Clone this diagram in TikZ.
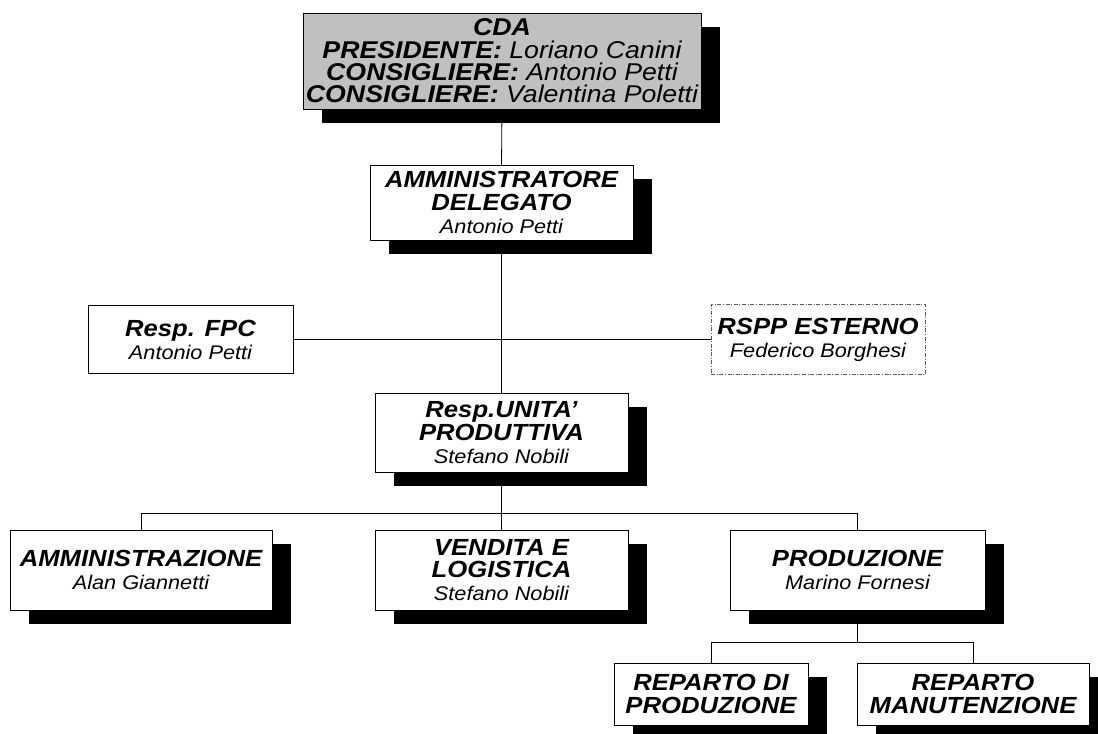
\documentclass[tikz,border=0pt]{standalone}
\usepackage{fontspec}
\setmainfont{Liberation Sans}[FakeStretch=1.1]
\usetikzlibrary{shadows}
\definecolor{cdagray}{RGB}{192,192,192}
\definecolor{dashgray}{RGB}{90,90,90}
\tikzset{
  box/.style={draw=black, line width=0.6pt, fill=white, inner sep=0pt, outer sep=0pt,
    align=center, font=\bfseries\itshape\fontsize{17.5}{17.2}\selectfont},
  shad/.style={drop shadow={shadow xshift=14.25pt, shadow yshift=-10.5pt, opacity=1, fill=black}},
  wire/.style={draw=black, line width=0.6pt},
}
\newcommand\pname[1]{{\mdseries\fontsize{14.8}{17.2}\selectfont #1}}
\newcommand\pcda[1]{{\mdseries #1}}
\begin{document}
\begin{tikzpicture}[x=0.75pt,y=-0.75pt]
\useasboundingbox (0,0) rectangle (1098,733);
\clip (0,0) rectangle (1098,733);

\node[box,shad,fill=cdagray,minimum width=298.5pt,minimum height=72pt,
  font=\bfseries\itshape\fontsize{18.2}{16.8}\selectfont] (cda) at (502,61)
  {CDA\\PRESIDENTE: \pcda{Loriano Canini}\\CONSIGLIERE: \pcda{Antonio Petti}\\CONSIGLIERE: \pcda{Valentina Poletti}};

\node[box,shad,minimum width=197.25pt,minimum height=56.25pt] (ad) at (501.5,202.5)
  {AMMINISTRATORE\\DELEGATO\\\pname{Antonio Petti}};

\node[box,minimum width=153.75pt,minimum height=51pt] (fpc) at (190.5,339.5)
  {Resp. FPC\\\pname{Antonio Petti}};

\node[box,draw=dashgray,dash pattern=on 3pt off 1.2pt on 0.8pt off 1.2pt,minimum width=160.5pt,minimum height=52.5pt] (rspp) at (818,339.5)
  {RSPP ESTERNO\\\pname{Federico Borghesi}};

\node[box,shad,minimum width=189.75pt,minimum height=59.25pt] (unita) at (501.5,432.5)
  {Resp.UNITA'\\PRODUTTIVA\\\pname{Stefano Nobili}};

\node[box,shad,minimum width=196.5pt,minimum height=60pt] (amm) at (141,570)
  {AMMINISTRAZIONE\\\pname{Alan Giannetti}};

\node[box,shad,minimum width=189.75pt,minimum height=60pt] (ven) at (501.5,570)
  {VENDITA E\\LOGISTICA\\\pname{Stefano Nobili}};

\node[box,shad,minimum width=191.25pt,minimum height=60pt] (prod) at (857.5,570)
  {PRODUZIONE\\\pname{Marino Fornesi}};

\node[box,shad,minimum width=145.5pt,minimum height=46.5pt] (rp) at (711,694)
  {REPARTO DI\\PRODUZIONE};

\node[box,shad,minimum width=174pt,minimum height=46.5pt] (rm) at (973,694)
  {REPARTO\\MANUTENZIONE};

\coordinate (bus1) at (501.5,513);
\coordinate (bus2) at (857.5,642);

\draw[wire] (cda.south) -- (ad.north);
\draw[wire] (ad.south) -- (unita.north);
\draw[wire] (fpc.east) -- (rspp.west);
\draw[wire] (unita.south) -- (bus1);
\draw[wire] (amm.north) |- (bus1) -| (prod.north);
\draw[wire] (ven.north) -- (ven.north |- bus1);
\draw[wire] (prod.south) -- (bus2);
\draw[wire] (rp.north) |- (bus2) -| (rm.north);
\end{tikzpicture}
\end{document}
